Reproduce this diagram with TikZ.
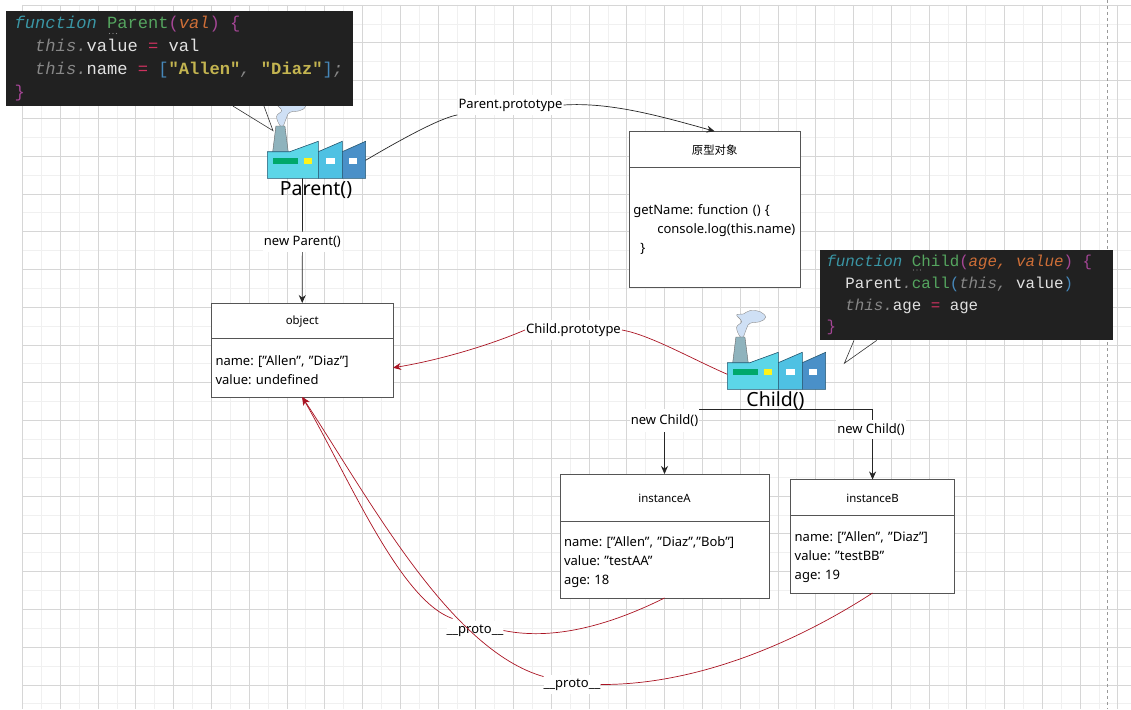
\documentclass[tikz,border=0pt]{standalone}
\usepackage{fontspec}
\setmainfont{Noto Sans}
\setmonofont{Liberation Mono}
\newfontfamily\cjk{Noto Sans CJK SC}
\usepackage{xcolor}
\usepackage{tikz}
\usetikzlibrary{arrows.meta, positioning, calc}
\definecolor{gridmajor}{RGB}{214,214,214}
\definecolor{gridminor}{RGB}{240,240,240}
\definecolor{boxline}{RGB}{85,85,85}
\definecolor{protored}{RGB}{170,20,35}
\definecolor{codebg}{RGB}{33,33,33}
\definecolor{cdkey}{RGB}{58,150,165}
\definecolor{cdname}{RGB}{85,165,95}
\definecolor{cdparen}{RGB}{165,70,150}
\definecolor{cdarg}{RGB}{205,110,55}
\definecolor{cdthis}{RGB}{135,135,135}
\definecolor{cdtext}{RGB}{225,225,225}
\definecolor{cdop}{RGB}{205,50,95}
\definecolor{cdbrack}{RGB}{70,135,185}
\definecolor{cdstr}{RGB}{195,180,80}
\definecolor{ftline}{RGB}{35,85,110}
\definecolor{ftfront}{RGB}{92,214,232}
\definecolor{ftmid}{RGB}{78,193,227}
\definecolor{ftback}{RGB}{74,144,200}
\definecolor{ftstack}{RGB}{143,179,189}
\definecolor{ftsmoke}{RGB}{207,224,245}
\definecolor{ftgreen}{RGB}{0,168,107}
\newcommand{\cdk}[1]{\textcolor{cdkey}{\itshape #1}}
\newcommand{\cdn}[1]{\textcolor{cdname}{#1}}
\newcommand{\cdp}[1]{\textcolor{cdparen}{#1}}
\newcommand{\cda}[1]{\textcolor{cdarg}{\itshape #1}}
\newcommand{\cdt}[1]{\textcolor{cdthis}{\itshape #1}}
\newcommand{\cdw}[1]{\textcolor{cdtext}{#1}}
\newcommand{\cdo}[1]{\textcolor{cdop}{#1}}
\newcommand{\cdb}[1]{\textcolor{cdbrack}{#1}}
\newcommand{\cds}[1]{\textcolor{cdstr}{\bfseries #1}}
\newcommand{\cdi}{\phantom{xx}}
\newcommand{\lowergap}{\rule{0pt}{15pt}}
\tikzset{
  factory/.pic={
    \draw[draw=black!45, fill=ftsmoke, line width=0.4pt] plot[smooth cycle, tension=0.7] coordinates {
      (12.7,-52.7) (9.3,-62) (14.3,-67.7) (9.3,-74.3) (16,-75.3) (22.7,-78.7)
      (32.7,-77.7) (38.3,-72) (32.7,-67.7) (22.7,-66) (19.3,-61) (16,-52.7)};
    \draw[draw=black!60, fill=ftstack, line width=0.4pt]
      (5.3,-26) -- (8.6,-52.3) -- (17.6,-52.3) -- (21,-26) -- cycle;
    \draw[draw=ftline, fill=ftfront, line width=0.6pt]
      (0,0) -- (0,-26.6) -- (22.5,-26.6) -- (51,-37) -- (51,0) -- cycle;
    \draw[draw=ftline, fill=ftmid, line width=0.6pt]
      (51,0) -- (51,-26.6) -- (75,-37) -- (75,0) -- cycle;
    \draw[draw=ftline, fill=ftback, line width=0.6pt]
      (75,0) -- (75,-26.6) -- (98.3,-37) -- (98.3,0) -- cycle;
    \fill[ftgreen] (6,-20) rectangle (31,-14.5);
    \fill[yellow!90!white] (36.7,-20) rectangle (45,-14.5);
    \fill[white] (59,-20) rectangle (68,-14.5);
    \fill[white] (82,-20) rectangle (90,-14.5);
    \coordinate (-west) at (0,-15);
    \coordinate (-east) at (98.3,-18);
    \coordinate (-south) at (35.2,0);
  }
}

\begin{document}
\begin{tikzpicture}[
    x=1pt, y=-1pt,
    hdr/.style={rectangle, draw=boxline, line width=0.8pt, fill=white, outer sep=0pt,
                anchor=north west, align=center, font=\fontsize{11.4}{13}\selectfont},
    body/.style={rectangle, draw=boxline, line width=0.8pt, fill=white, outer sep=0pt,
                inner xsep=4pt, inner ysep=0pt, align=left, font=\fontsize{13}{19}\selectfont\frenchspacing},
    lbl/.style={fill=white, inner sep=1pt, minimum height=19.5pt, yshift=-1.5pt,
                font=\fontsize{13}{15}\selectfont\frenchspacing},
    factname/.style={inner sep=0pt, font=\fontsize{19.5}{21}\selectfont},
    code/.style={rectangle, fill=codebg, anchor=north west, align=flush left, inner xsep=9pt, inner ysep=0pt,
                text=cdtext},
    arr/.style={-{Stealth[length=8pt, width=7pt]}, line width=0.7pt, draw=black!85},
    redarr/.style={-{Stealth[length=8pt, width=7pt]}, line width=0.7pt, draw=protored, color=protored},
    redline/.style={line width=0.7pt, draw=protored},
    plain/.style={line width=0.7pt, draw=black!85},
    tail/.style={line width=0.6pt, draw=black!80},
]
    \useasboundingbox (0,0) rectangle (1131,709);
    \fill[white] (0,0) rectangle (1131,709);

    % grid
    \foreach \k in {0,...,29} {
        \draw[gridminor, line width=0.7pt] ({22.5+37.77*\k+18.9},5) -- ({22.5+37.77*\k+18.9},709);
    }
    \foreach \k in {0,...,18} {
        \draw[gridminor, line width=0.7pt] (23,{5+37.77*\k+18.9}) -- (1131,{5+37.77*\k+18.9});
    }
    \foreach \k in {0,...,29} {
        \draw[gridmajor, line width=0.7pt] ({22.5+37.77*\k},5) -- ({22.5+37.77*\k},709);
    }
    \foreach \k in {0,...,18} {
        \draw[gridmajor, line width=0.7pt] (23,{5+37.77*\k}) -- (1131,{5+37.77*\k});
    }
    \draw[black!40, dashed, line width=0.7pt] (1107,0) -- (1107,709);

    % classes
    \node[hdr, minimum width=181.5pt, minimum height=35.5pt] (objecthead) at (211.5,303) {\rule{0pt}{11pt}object};
    \node[body, below=0pt of objecthead, text width=173.5pt, minimum height=58.5pt] (object)
        {\lowergap name: ["Allen", "Diaz"]\\value: undefined};

    \node[hdr, minimum width=170.7pt, minimum height=35.7pt] (protohead) at (629.3,131.3) {\rule{0pt}{11pt}\cjk 原型对象};
    \node[body, below=0pt of protohead, text width=162.7pt, minimum height=120pt] (proto)
        {\lowergap getName: function () \{\\\hspace*{24pt}console.log(this.name)\\\hspace*{7pt}\}};

    \node[hdr, minimum width=209pt, minimum height=47pt] (instanceAhead) at (560,474) {\rule{0pt}{11pt}instanceA};
    \node[body, below=0pt of instanceAhead, text width=201pt, minimum height=77pt] (instanceA)
        {\lowergap name: ["Allen", "Diaz","Bob"]\\value: "testAA"\\age: 18};

    \node[hdr, minimum width=163.7pt, minimum height=36pt] (instanceBhead) at (790.7,479.5) {\rule{0pt}{11pt}instanceB};
    \node[body, below=0pt of instanceBhead, text width=155.7pt, minimum height=77.5pt] (instanceB)
        {\lowergap name: ["Allen", "Diaz"]\\value: "testBB"\\age: 19};

    % factories
    \coordinate (parenttip) at (273,130.7);
    \coordinate (childtip) at (844.3,363.3);
    \coordinate (childbus) at (775.5,409.5);
    \pic (parentf) at (267.3,178.3) {factory};
    \pic (childf) at (727.3,389.3) {factory};
    \node[factname] (parentname) at (316,190) {Parent()};
    \node[factname] (childname) at (775.5,401) {Child()};

    % code
    \node[code, text width=329.7pt, inner xsep=8.5pt, minimum height=94.7pt, font=\fontsize{17.1}{23.3}\selectfont\ttfamily] (parentcode) at (6,11)
        {\cdk{function} \cdn{Parent}\cdp{(}\cda{val}\cdp{)} \cdp{\{}\\
         \cdi\cdt{this}\cdt{.}\cdw{value} \cdo{=} \cdw{val}\\
         \cdi\cdt{this}\cdt{.}\cdw{name} \cdo{=} \cdb{[}\cds{"Allen"}\cdt{,} \cds{"Diaz"}\cdb{]}\cdt{;}\\
         \cdp{\}}};
    \node[code, inner xsep=7pt, text width=279pt, minimum height=90pt, font=\fontsize{15.8}{21.6}\selectfont\ttfamily] (childcode) at (819.3,250)
        {\cdk{function} \cdn{Child}\cdp{(}\cda{age,} \cda{value}\cdp{)} \cdp{\{}\\
         \cdi\cdw{Parent}\cdt{.}\cdn{call}\cdb{(}\cdt{this,} \cdw{value}\cdb{)}\\
         \cdi\cdt{this}\cdt{.}\cdw{age} \cdo{=} \cdw{age}\\
         \cdp{\}}};
    \foreach \d in {0,3.5,7} {
        \fill[cdthis] (109.5+\d,33.5) circle (0.6);
        \fill[cdthis] (913.5+\d,270) circle (0.6);
    }

    \draw[tail] ($(parentcode.south west)+(227,0)$) -- (parenttip) -- ($(parentcode.south west)+(258,0)$);
    \draw[tail] ($(childcode.south west)+(34.7,0)$) -- (childtip) -- ($(childcode.south west)+(57.4,0)$);

    % black connectors
    \node[lbl] (parentproto) at (510.5,103.5) {Parent.prototype};
    \draw[plain] (parentf-east) .. controls (400,140) and (440,118) .. (parentproto.south west);
    \draw[arr] (parentproto.east) .. controls (610,102) and (660,116) .. (protohead.north);

    \draw[arr] (parentf-south) -- (objecthead.north)
        node[lbl, midway] (newparent) {new Parent()};

    \draw[arr] (childbus) -| (instanceAhead.north);
    \draw[arr] (childbus) -| (instanceBhead.north);
    \node[lbl, minimum height=23.5pt] (newchilda) at (664.5,419) {new Child()};
    \node[lbl] (newchildb) at (871,428) {new Child()};

    % red connectors
    \node[lbl] (childproto) at (573.5,328.5) {Child.prototype};
    \draw[redline] (childf-west) .. controls (690,358) and (650,335) .. (childproto.east);
    \draw[redarr] (childproto.west) .. controls (490,345) and (440,360) .. (object.east);

    \node[lbl, inner sep=0pt] (protoa) at (475,629) {\_\_proto\_\_};
    \draw[redline] (instanceA.south) .. controls (620,620) and (560,642) .. (protoa.east);
    \draw[redarr] (protoa.north west) ++(6,-2) .. controls (400,600) and (350,480) .. (object.south);

    \node[lbl, inner sep=0pt] (protob) at (572,683) {\_\_proto\_\_};
    \draw[redline] (instanceB.south) .. controls (800,640) and (700,685) .. (protob.east);
    \draw[redarr] (protob.north west) ++(0,2) .. controls (450,650) and (370,500) .. (object.south);
\end{tikzpicture}
\end{document}
